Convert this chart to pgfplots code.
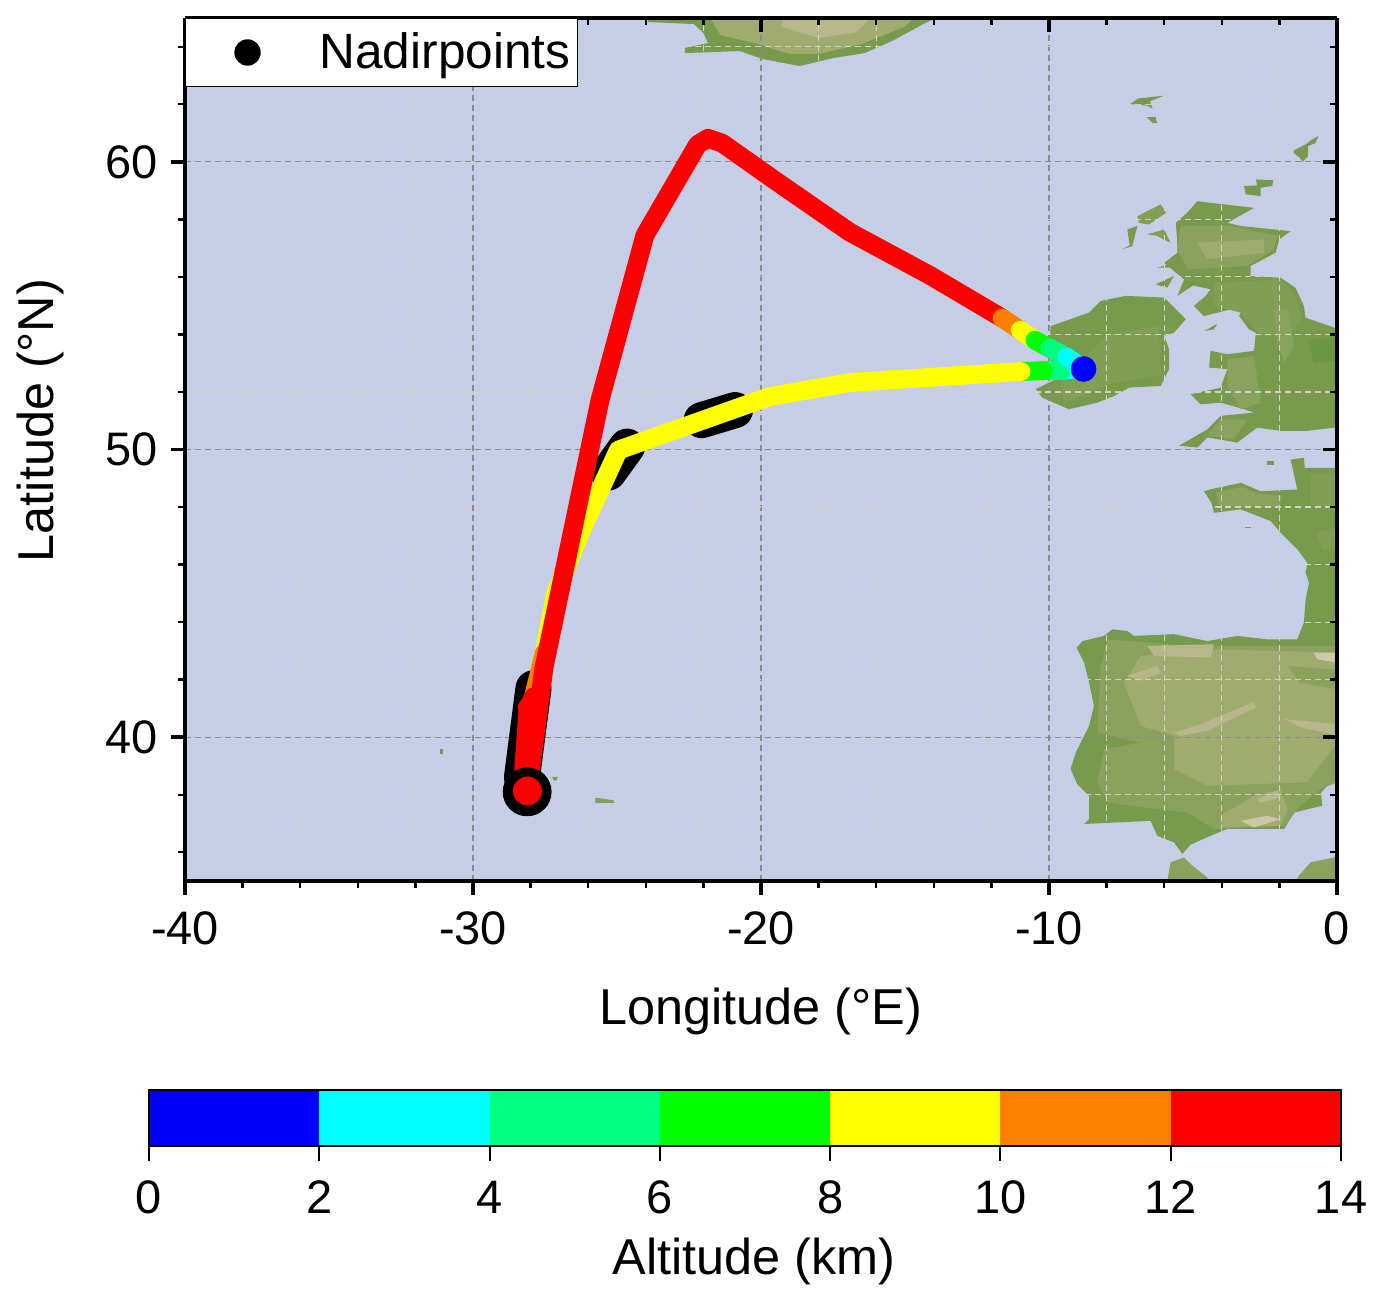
\documentclass[border=0pt]{standalone}
\usepackage{fontspec}
\setmainfont{Liberation Sans}
\usepackage{pgfplots}
\pgfplotsset{compat=1.18}
\definecolor{water}{HTML}{C5CEE6}
\definecolor{landA}{HTML}{779A4C}
\definecolor{landB}{HTML}{8AA25E}
\definecolor{landC}{HTML}{A0AB70}
\definecolor{landD}{HTML}{B8B78C}
\definecolor{landE}{HTML}{CFC8A8}
\definecolor{landF}{HTML}{6B9643}
\definecolor{landG}{HTML}{809E54}
\definecolor{majgrid}{HTML}{8A8A8A}
\definecolor{mingrid}{HTML}{D2D2C8}
\definecolor{cA}{HTML}{0000FF}
\definecolor{cB}{HTML}{00FFFF}
\definecolor{cC}{HTML}{00FF80}
\definecolor{cD}{HTML}{00FF00}
\definecolor{cE}{HTML}{FFFF00}
\definecolor{cF}{HTML}{FF8000}
\definecolor{cG}{HTML}{FF0000}
\newcommand{\tickfont}{\fontsize{23.5}{28}\selectfont}
\newcommand{\labfont}{\fontsize{25.2}{30}\selectfont}
\pgfplotsset{
  geo/.style={scale only axis,width=576pt,height=431.5pt,xmin=-40,xmax=0,ymin=35,ymax=65,
    xtick={-40,-30,-20,-10,0},ytick={40,50,60},
    minor xtick={-38,-36,-34,-32,-28,-26,-24,-22,-18,-16,-14,-12,-8,-6,-4,-2},
    minor ytick={36,38,42,44,46,48,52,54,56,58,62,64},
    major tick length=7pt,minor tick length=3.5pt,
    every tick/.append style={black,line width=1.7pt},
    minor tick style={black,line width=1.2pt},
    axis line style={line width=2pt}},
  land/.style={draw=none,forget plot},
  seg/.style={line width=9.4pt,line cap=round,line join=round,forget plot,no markers},
}
\begin{document}
\begin{tikzpicture}
\useasboundingbox (0,0) rectangle (687pt,646pt);
% ---------- map layer
\begin{axis}[geo,at={(92.5pt,205.5pt)},anchor=south west,
  xtick=\empty,ytick=\empty,minor xtick={},minor ytick={},axis background/.style={fill=water},axis line style={draw=none}]
% Iceland
\addplot[land,fill=landA] coordinates {(-23.92,65.2)(-23.92,64.86)(-22.33,64.79)(-22.0,64.48)(-21.84,64.13)(-22.64,63.96)(-22.64,63.78)(-20.73,63.85)(-19.93,63.57)(-18.65,63.33)(-17.53,63.6)(-16.4,63.78)(-15.45,64.2)(-13.6,65.2)} -- cycle;
\addplot[land,fill=landC] coordinates {(-21.9,65.2)(-21.4,64.4)(-20.3,64.15)(-19,63.75)(-18,63.75)(-16.5,64.1)(-15,64.7)(-14.5,65.2)} -- cycle;
\addplot[land,fill=landD] coordinates {(-19.2,65.2)(-19.3,64.7)(-18,64.3)(-16.7,64.5)(-16,65.2)} -- cycle;
% Faroe, Shetland, Orkney
\addplot[land,fill=landA] coordinates {(-7.2,62.0)(-6.9,62.2)(-6.0,62.3)(-6.5,62.1)(-6.4,61.85)(-6.6,61.95)(-7.0,62.0)} -- cycle;
\addplot[land,fill=landA] coordinates {(-6.6,61.55)(-6.3,61.55)(-6.25,61.35)(-6.4,61.35)} -- cycle;
\addplot[land,fill=landA] coordinates {(-1.5,60.4)(-1.1,60.6)(-0.9,60.75)(-0.65,60.9)(-0.75,60.65)(-1.0,60.55)(-1.0,60.2)(-1.2,60.0)(-1.3,60.15)(-1.5,60.3)} -- cycle;
\addplot[land,fill=landA] coordinates {(-3.23,59.16)(-2.77,59.18)(-2.82,59.39)(-2.21,59.36)(-2.25,59.16)(-2.65,59.1)(-2.65,58.81)(-3.17,58.87)} -- cycle;
% Hebrides and small islands
\addplot[land,fill=landG] coordinates {(-6.93,58.11)(-6.12,58.52)(-5.93,58.23)(-6.53,57.82)(-6.88,57.88)} -- cycle;
\addplot[land,fill=landA] coordinates {(-7.28,57.65)(-6.93,57.77)(-7.11,57.07)(-7.45,56.96)(-7.2,57.1)} -- cycle;
\addplot[land,fill=landG] coordinates {(-6.59,57.48)(-6.0,57.65)(-5.78,57.19)(-6.24,57.42)} -- cycle;
\addplot[land,fill=landA] coordinates {(-6.24,56.32)(-5.66,56.49)(-5.83,56.32)} -- cycle;
\addplot[land,fill=landA] coordinates {(-6.3,55.74)(-5.66,56.03)(-5.89,55.63)} -- cycle;
\addplot[land,fill=landA] coordinates {(-4.6,54.12)(-4.16,54.37)(-4.27,54.18)} -- cycle;
% Great Britain
\addplot[land,fill=landA] coordinates {(-4.85,58.63)(-2.88,58.40)(-3.81,57.88)(-3.35,57.77)(-1.61,57.59)(-2.01,57.30)(-2.13,56.84)(-3.0,56.38)(-3.0,56.03)(-1.96,55.97)(-1.44,55.62)(-1.15,54.99)(-1.09,54.58)(-0.10,54.24)(0.2,54.1)(0.2,50.79)(-1.03,50.65)(-1.96,50.65)(-2.77,50.76)(-3.46,50.24)(-4.50,50.42)(-4.85,50.07)(-5.49,50.13)(-4.5,50.7)(-4.04,51.17)(-2.88,51.28)(-3.23,51.40)(-4.04,51.63)(-4.73,51.57)(-5.08,51.92)(-4.04,52.15)(-3.81,52.79)(-4.44,52.85)(-4.39,53.43)(-3.81,53.31)(-2.88,53.43)(-2.82,54.06)(-3.06,54.18)(-3.40,54.64)(-3.23,54.99)(-4.62,54.64)(-4.97,54.99)(-4.56,55.34)(-4.39,55.57)(-5.0,55.7)(-5.54,55.34)(-5.31,55.91)(-6.0,56.49)(-5.54,56.84)(-5.55,57.3)(-5.6,57.88)(-5.2,58.23)} -- cycle;
\addplot[land,fill=landB] coordinates {(-5.43,57.77)(-3.81,57.77)(-2.07,57.42)(-2.19,56.96)(-3.11,56.38)(-5.2,56.26)(-5.54,56.96)} -- cycle;
\addplot[land,fill=landC] coordinates {(-4.85,57.19)(-2.53,57.3)(-2.53,56.84)(-4.5,56.61)} -- cycle;
\addplot[land,fill=landG] coordinates {(-4.27,55.8)(-1.96,55.91)(-1.49,55.45)(-1.2,54.53)(-1.72,53.95)(-2.65,53.95)(-3.34,54.76)(-4.27,54.99)} -- cycle;
\addplot[land,fill=landB] coordinates {(-2.19,54.87)(-1.72,54.87)(-1.49,53.6)(-1.84,53.02)(-2.07,53.72)} -- cycle;
\addplot[land,fill=landB] coordinates {(-3.81,53.14)(-2.88,53.25)(-2.65,51.63)(-3.34,51.4)(-3.81,52.21)} -- cycle;
\addplot[land,fill=landB] coordinates {(-4.04,51.05)(-3.11,51.05)(-3.58,50.36)(-4.5,50.47)} -- cycle;
\addplot[land,fill=landF] coordinates {(-1.0,53.8)(-0.1,53.9)(0,53.1)(-0.8,53.0)} -- cycle;
% Ireland
\addplot[land,fill=landA] coordinates {(-9.94,54.29)(-8.61,54.76)(-8.21,55.16)(-7.34,55.34)(-6.0,55.28)(-5.25,54.53)(-5.66,54.06)(-6.0,53.95)(-5.83,53.48)(-5.83,52.79)(-6.12,52.21)(-7.22,52.15)(-7.74,51.86)(-8.32,51.63)(-9.31,51.40)(-10.23,51.80)(-10.46,52.1)(-9.77,52.44)(-10,53.37)} -- cycle;
\addplot[land,fill=landG] coordinates {(-8.0,54.0)(-6.2,54.3)(-6.1,52.6)(-7.8,52.3)(-9.5,51.6)(-9.6,52.4)} -- cycle;
% Iberia and France
\addplot[land,fill=landA] coordinates {(-1.61,49.65)(-1.15,49.71)(-1.12,49.36)(0.2,49.36)(0.2,38.49)(0,38.49)(-0.22,38.43)(-0.56,38.07)(-0.51,37.62)(-1.49,37.38)(-1.84,36.81)(-3.81,36.81)(-4.39,36.57)(-5.08,36.27)(-5.37,35.94)(-5.66,36.34)(-6.24,36.57)(-6.47,37.09)(-7.57,37.04)(-8.78,36.98)(-8.61,37.15)(-8.61,37.96)(-9.02,38.37)(-9.25,38.89)(-9.07,39.47)(-8.84,39.93)(-8.61,40.39)(-8.44,41.09)(-8.61,41.90)(-8.78,42.59)(-9.04,43.11)(-8.84,43.34)(-8.09,43.52)(-7.8,43.75)(-7.28,43.69)(-7.05,43.52)(-5.66,43.58)(-4.5,43.34)(-3.46,43.52)(-2.42,43.40)(-1.38,43.40)(-1.15,43.98)(-1.09,44.79)(-0.97,45.37)(-1.09,45.72)(-1.03,46.06)(-1.38,46.53)(-1.96,47.11)(-2.30,47.51)(-3.34,47.92)(-4.27,47.80)(-4.36,48.15)(-4.62,48.55)(-4.33,48.63)(-3.34,48.84)(-2.65,48.55)(-1.38,48.61)} -- cycle;
\addplot[land,fill=landB] coordinates {(-4.2,48.5)(-3.3,48.7)(-2.7,48.45)(-1.9,48.4)(-2,48.0)(-3.3,48.0)(-4.1,48.05)} -- cycle;
\addplot[land,fill=landG] coordinates {(-0.9,49.2)(0,49.2)(0,47.9)(-0.9,48.1)} -- cycle;
\addplot[land,fill=landG] coordinates {(-0.7,47.1)(0,47.3)(0,46.6)(-0.5,46.5)} -- cycle;
\addplot[land,fill=landA] coordinates {(-2.42,49.6)(-2.2,49.6)(-2.2,49.45)(-2.42,49.45)} -- cycle;
\addplot[land,fill=landA] coordinates {(-3.2,47.32)(-3.0,47.32)(-3.0,47.28)(-3.2,47.28)} -- cycle;
\addplot[land,fill=landB] coordinates {(-7.97,43.40)(-5.08,43.17)(0,43.17)(0,38.43)(-0.57,38.19)(-1.26,37.62)(-1.84,36.92)(-4.27,36.81)(-5.2,37.38)(-6.24,37.5)(-7.97,37.73)(-8.32,38.43)(-8.09,39.58)(-6.82,39.81)(-8.32,40.16)(-8.2,42.48)} -- cycle;
\addplot[land,fill=landC] coordinates {(-6.82,42.82)(-4.5,43.06)(0,42.94)(0,39.81)(-1.03,38.43)(-4.5,38.31)(-5.66,38.89)(-5.66,40.05)(-6.82,40.39)(-7.4,41.9)} -- cycle;
\addplot[land,fill=landB] coordinates {(-1.7,42.47)(0,42.35)(0,41.67)(-1.3,41.9)} -- cycle;
\addplot[land,fill=landC] coordinates {(-4.04,37.27)(-2.88,37.96)(-1.96,38.19)(-1.72,37.5)(-1.96,36.92)(-4.04,36.86)} -- cycle;
\addplot[land,fill=landD] coordinates {(-6.59,43.17)(-4.27,43.23)(-4.39,42.77)(-6.35,42.82)} -- cycle;
\addplot[land,fill=landD] coordinates {(-7.28,42.13)(-6.24,42.48)(-6.12,42.25)(-6.82,41.96)} -- cycle;
\addplot[land,fill=landD] coordinates {(-5.66,40.16)(-4.73,40.45)(-2.88,41.23)(-2.82,41.03)(-4.5,40.22)(-5.43,40.05)} -- cycle;
\addplot[land,fill=landD] coordinates {(-1.84,40.63)(0,40.45)(0,40.05)(-1.26,40.34)} -- cycle;
\addplot[land,fill=landE] coordinates {(-0.8,42.94)(0,42.94)(0,42.59)(-0.68,42.71)} -- cycle;
\addplot[land,fill=landD] coordinates {(-2.77,37.85)(-2.07,38.14)(-1.96,37.9)(-2.65,37.73)} -- cycle;
\addplot[land,fill=landE] coordinates {(-3.35,37.09)(-2.42,37.27)(-1.96,37.15)(-2.88,36.86)} -- cycle;
% North Africa
\addplot[land,fill=landB] coordinates {(-5.89,35.0)(-5.78,35.65)(-5.31,35.82)(-5.02,35.53)(-4.5,35.12)(-4.5,35.0)} -- cycle;
\addplot[land,fill=landB] coordinates {(-1.38,35.0)(-1.38,35.12)(-0.92,35.65)(0.2,35.88)(0.2,35.0)} -- cycle;
\addplot[land,fill=landA] coordinates {(-4.5,35.0)(-4.5,35.06)(-1.38,35.06)(-1.38,35.0)} -- cycle;
% Azores
\addplot[land,fill=landA] coordinates {(-31.15,39.6)(-31.05,39.6)(-31.05,39.42)(-31.15,39.42)} -- cycle;
\addplot[land,fill=landA] coordinates {(-27.25,38.62)(-27.05,38.62)(-27.1,38.5)(-27.2,38.5)} -- cycle;
\addplot[land,fill=landG] coordinates {(-25.75,37.9)(-25.1,37.8)(-25.1,37.72)(-25.75,37.72)} -- cycle;
\end{axis}
% ---------- grid, outward ticks and the flight track
\begin{axis}[geo,at={(92.5pt,205.5pt)},anchor=south west,
  axis x line*=bottom,axis y line*=left,tick align=outside,
  xticklabels={-40,-30,-20,-10,0},yticklabels={40,50,60},
  tick label style={font=\tickfont},
  xticklabel style={yshift=-5pt},yticklabel style={xshift=-3pt},
  xlabel={Longitude (°E)},ylabel={Latitude (°N)},
  label style={font=\labfont},
  xlabel style={yshift=-14.5pt},ylabel style={yshift=14pt,xshift=14.5pt},
  grid=both,
  major grid style={majgrid,line width=0.55pt,dash pattern=on 3pt off 2pt},
  minor grid style={mingrid,line width=0.55pt,dash pattern=on 3pt off 2pt},
  clip=true]
% nadir points
\addplot[black,seg,line width=18pt] coordinates {(-28.3,38.6)(-27.9,41.7)};
\addplot[black,only marks,mark=*,mark size=12pt,forget plot] coordinates {(-28.12,38.1)};
\addplot[black,seg,line width=18pt] coordinates {(-24.65,50.1)(-25.3,49.2)};
\addplot[black,seg,line width=18pt] coordinates {(-22.06,51.02)(-20.9,51.37)};
% outbound, descending colours from the base
\addplot[seg,cB] coordinates {(-8.82,52.83)(-9.58,52.74)};
\addplot[seg,cC] coordinates {(-9.58,52.74)(-10.2,52.74)};
\addplot[seg,cD] coordinates {(-10.2,52.74)(-10.97,52.71)};
\addplot[seg,cE] coordinates {(-10.97,52.71)(-16.91,52.33)(-19.7,51.84)(-24.95,49.98)(-25.7,48.35)(-26.28,47.09)(-27.13,45.0)(-27.53,42.92)};
\addplot[seg,cF] coordinates {(-27.53,42.92)(-27.9,41.4)};
\addplot[seg,cG] coordinates {(-27.9,41.4)(-28.09,41.0)(-28.28,38.3)};
\addplot[cG,only marks,mark=*,mark size=5pt,forget plot] coordinates {(-28.09,41.0)};
% return
\addplot[cG,only marks,mark=*,mark size=7pt,forget plot] coordinates {(-28.11,38.13)};
\addplot[seg,cG] coordinates {(-28.11,38.13)(-27.53,42.44)(-26.56,47.09)(-25.59,51.72)(-24.03,57.45)(-22.2,60.6)(-21.84,60.82)(-21.35,60.65)(-19.51,59.35)(-16.91,57.55)(-14.13,56.05)(-11.63,54.57)};
\addplot[seg,cF] coordinates {(-11.63,54.57)(-11.0,54.15)};
\addplot[seg,cE] coordinates {(-11.0,54.15)(-10.49,53.8)};
\addplot[seg,cD] coordinates {(-10.49,53.8)(-9.97,53.52)};
\addplot[seg,cC] coordinates {(-9.97,53.52)(-9.38,53.21)};
\addplot[seg,cB] coordinates {(-9.38,53.21)(-8.82,52.83)};
\addplot[cA,only marks,mark=*,mark size=6.2pt,forget plot] coordinates {(-8.8,52.8)};
\end{axis}
% ---------- inward ticks on top and right, and the legend
\begin{axis}[geo,at={(92.5pt,205.5pt)},anchor=south west,
  axis x line*=top,axis y line*=right,tick align=inside,
  xticklabels={},yticklabels={},
  legend style={at={(0,1)},anchor=north west,draw=black,line width=0.5pt,fill=white,
    inner xsep=0pt,inner ysep=5pt,font=\fontsize{24.8}{29}\selectfont},
  legend cell align=left,
  legend image code/.code={\path[draw=none,fill=none,use as bounding box] (0pt,-12pt) rectangle (65pt,12pt);\fill[black,draw=none] (31pt,0pt) circle[radius=6.6pt];}]
\addplot[only marks,mark=*,black] coordinates {(-100,100)};
\addlegendentry{Nadirpoints\rule{1.4pt}{0pt}}
\end{axis}
% ---------- colour bar
\begin{axis}[scale only axis,width=596pt,height=28pt,at={(74.5pt,73pt)},anchor=south west,
  xmin=0,xmax=14,ymin=0,ymax=1,xtick={0,2,4,6,8,10,12,14},ytick=\empty,
  axis x line*=bottom,tick align=outside,major tick length=7.5pt,
  every tick/.append style={black,line width=1pt},
  tick label style={font=\tickfont},xticklabel style={yshift=-6.5pt},
  xticklabels={0,2,4,6,8,10,12,14},
  axis line style={line width=1pt},clip=false,
  xlabel={Altitude (km)},label style={font=\labfont},xlabel style={yshift=-5pt,xshift=4.5pt}]
\addplot[fill=cA,draw=none] coordinates {(0,0)(2,0)(2,1)(0,1)} -- cycle;
\addplot[fill=cB,draw=none] coordinates {(2,0)(4,0)(4,1)(2,1)} -- cycle;
\addplot[fill=cC,draw=none] coordinates {(4,0)(6,0)(6,1)(4,1)} -- cycle;
\addplot[fill=cD,draw=none] coordinates {(6,0)(8,0)(8,1)(6,1)} -- cycle;
\addplot[fill=cE,draw=none] coordinates {(8,0)(10,0)(10,1)(8,1)} -- cycle;
\addplot[fill=cF,draw=none] coordinates {(10,0)(12,0)(12,1)(10,1)} -- cycle;
\addplot[fill=cG,draw=none] coordinates {(12,0)(14,0)(14,1)(12,1)} -- cycle;
\addplot[black,line width=1.2pt,line join=miter] coordinates {(0,0)(14,0)(14,1)(0,1)(0,0)};
\end{axis}
\end{tikzpicture}
\end{document}
